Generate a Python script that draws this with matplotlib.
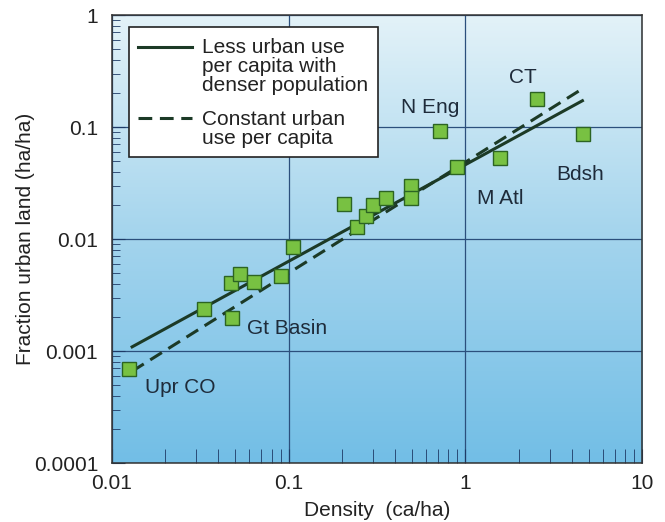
import numpy as np
import matplotlib
matplotlib.use('Agg')
import matplotlib.pyplot as plt
from matplotlib.colors import LinearSegmentedColormap
from matplotlib.patches import Rectangle

plt.rcParams['font.family'] = ['Liberation Sans', 'DejaVu Sans']

# Regions: density (ca/ha) vs fraction urban land (ha/ha)
density = [0.0125, 0.0331, 0.0481, 0.047, 0.0528, 0.0634, 0.091, 0.1057,
           0.205, 0.243, 0.275, 0.299, 0.356, 0.493, 0.493,
           0.723, 0.893, 1.57, 2.56, 4.66]
urban_frac = [0.00069, 0.00237, 0.00196, 0.00407, 0.00484, 0.00416, 0.0047, 0.00853,
              0.0205, 0.0129, 0.0160, 0.0201, 0.0231, 0.0297, 0.0234,
              0.0927, 0.0437, 0.0525, 0.177, 0.0866]

# fitted lines (end points)
fit_x = [0.013, 4.6]
fit_less = [0.00109, 0.172]
fit_const = [0.00066, 0.22]

region_names = ['Upr CO', 'Gt Basin', 'N Eng', 'CT', 'M Atl', 'Bdsh']
region_x = [0.0154, 0.058, 0.634, 2.13, 1.58, 4.47]
region_y = [0.00047, 0.0016, 0.151, 0.279, 0.0232, 0.038]
region_ha = ['left', 'left', 'center', 'center', 'center', 'center']

x_ticks = [0.01, 0.1, 1, 10]
x_labels = ['0.01', '0.1', '1', '10']
y_ticks = [0.0001, 0.001, 0.01, 0.1, 1]
y_labels = ['0.0001', '0.001', '0.01', '0.1', '1']

fig = plt.figure(figsize=(6.65, 5.22), dpi=100)
ax = fig.add_axes([0.1684, 0.113, 0.797, 0.858])
ax.set_xscale('log')
ax.set_yscale('log')
ax.set_xlim(0.01, 10)
ax.set_ylim(0.0001, 1)

# background gradient
grad_cmap = LinearSegmentedColormap.from_list(
    'bg', ['#72bee6', '#a3d4ed', '#e3f2f8'])
grad = np.linspace(0, 1, 256).reshape(-1, 1)
ax.imshow(grad, cmap=grad_cmap, aspect='auto', origin='lower',
          extent=[0, 1, 0, 1], transform=ax.transAxes, zorder=0)

ax.grid(True, which='major', color='#2b4f7c', lw=0.9, zorder=1)
ax.set_axisbelow(False)

line_col = '#1c3a26'
ax.plot(fit_x, fit_less, color=line_col, lw=2.2, zorder=3)
ax.plot(fit_x, fit_const, color=line_col, lw=2.2, ls=(0, (4.5, 2.5)), zorder=3)

ax.plot(density, urban_frac, ls='none', marker='s', ms=9.5,
        mfc='#78c142', mec='#2c6423', mew=1.0, zorder=4)

for name, x, y, ha in zip(region_names, region_x, region_y, region_ha):
    ax.text(x, y, name, fontsize=15, color='#1e2b3a', ha=ha, va='center', zorder=5)

# legend box drawn by hand so handles line up with first text line
ax.add_patch(Rectangle((0.032, 0.683), 0.47, 0.29, transform=ax.transAxes,
                       facecolor='white', edgecolor='#222222', lw=1.2, zorder=6))
ax.plot([0.049, 0.151], [0.9286, 0.9286], transform=ax.transAxes,
        color=line_col, lw=2.2, zorder=7)
ax.plot([0.049, 0.151], [0.770, 0.770], transform=ax.transAxes,
        color=line_col, lw=2.2, ls=(0, (4.5, 2.5)), zorder=7)
ax.text(0.170, 0.886, 'Less urban use\nper capita with\ndenser population',
        transform=ax.transAxes, fontsize=15, va='center', ha='left',
        linespacing=1.0, color='#222222', zorder=7)
ax.text(0.170, 0.746, 'Constant urban\nuse per capita',
        transform=ax.transAxes, fontsize=15, va='center', ha='left',
        linespacing=1.0, color='#222222', zorder=7)

ax.set_xticks(x_ticks)
ax.set_xticklabels(x_labels)
ax.set_yticks(y_ticks)
ax.set_yticklabels(y_labels)
ax.tick_params(axis='both', which='both', direction='in', colors='#1e3a66',
               labelcolor='#222222', labelsize=15, top=False, right=False)
ax.tick_params(axis='x', which='major', length=10, pad=8)
ax.tick_params(axis='x', which='minor', length=10)
ax.tick_params(axis='y', which='major', length=9, pad=10)
ax.tick_params(axis='y', which='minor', length=6)
ax.xaxis.set_minor_formatter(plt.NullFormatter())
ax.yaxis.set_minor_formatter(plt.NullFormatter())

for sp in ax.spines.values():
    sp.set_color('#333333')
    sp.set_linewidth(1.1)
    sp.set_zorder(8)

ax.set_xlabel('Density  (ca/ha)', fontsize=15, color='#222222', labelpad=6)
ax.set_ylabel('Fraction urban land (ha/ha)', fontsize=15, color='#222222', labelpad=-1)

fig.savefig('out.png', dpi=100)
